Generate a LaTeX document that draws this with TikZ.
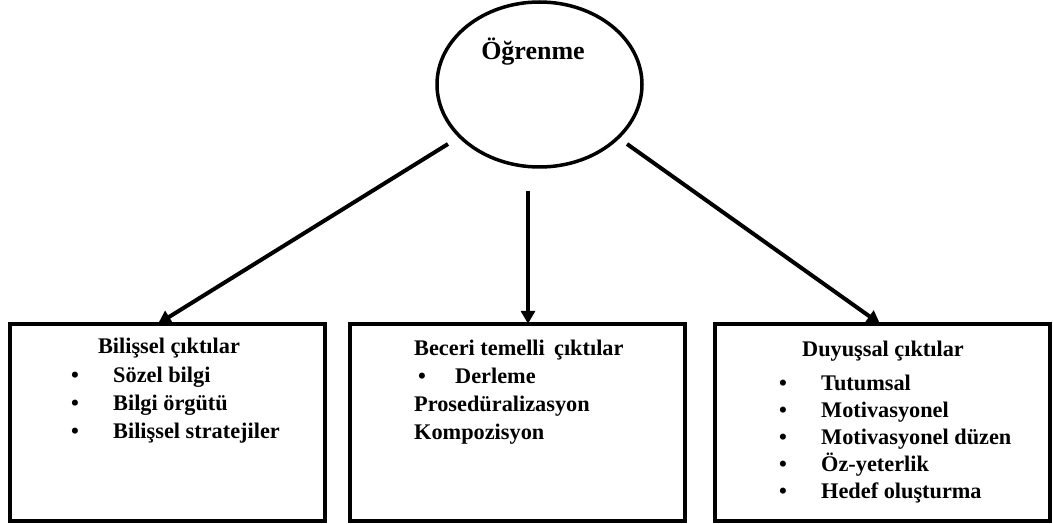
\documentclass[tikz,border=0pt]{standalone}
\usepackage{fontspec}
\setmainfont{Liberation Serif}[BoldFont={Liberation Serif Bold}]
\usetikzlibrary{shapes.geometric,arrows.meta,calc}
\begin{document}
\begin{tikzpicture}[x=1pt,y=-1pt,
  txt/.style={inner sep=0,font=\fontsize{22.3}{27}\selectfont\bfseries},
  tw/.style={txt,anchor=base west},
  tc/.style={txt,anchor=base},
  link/.style={line width=4pt,-{Triangle[length=13pt,width=14pt]}}]
\useasboundingbox (0,0) rectangle (1053,524);

% root ellipse
\node[ellipse,draw,line width=3.5pt,minimum width=205,minimum height=165,inner sep=0] (root) at (539.5,84.5) {};
\node[tc,font=\fontsize{26}{30}\selectfont\bfseries] (rootlbl) at (533,60) {Öğrenme};

% outcome boxes
\draw[line width=3.5pt] (10,324) rectangle (325,521);
\node[inner sep=0,minimum width=315,minimum height=197] (b1) at (167.5,422.5) {};
\draw[line width=3.5pt] (350,324) rectangle (685,521);
\node[inner sep=0,minimum width=335,minimum height=197] (b2) at (517.5,422.5) {};
\draw[line width=3.5pt] (715,324) rectangle (1050,521);
\node[inner sep=0,minimum width=335,minimum height=197] (b3) at (882.5,422.5) {};

% cognitive outcomes
\node[tc] (c0) at (169,353) {Bilişsel çıktılar};
\node[tc] (cb1) at (75,382) {•};
\node[tw] (c1) at (113,382) {Sözel bilgi};
\node[tc] (cb2) at (75,410) {•};
\node[tw] (c2) at (113,410) {Bilgi örgütü};
\node[tc] (cb3) at (75,438) {•};
\node[tw] (c3) at (113,438) {Bilişsel stratejiler};

% skill-based outcomes
\node[tw] (s0) at (414,355) {Beceri temelli\, çıktılar};
\node[tc] (sb1) at (422,383) {•};
\node[tw] (s1) at (455,383) {Derleme};
\node[tw] (s2) at (414,411) {Prosedüralizasyon};
\node[tw] (s3) at (414,439) {Kompozisyon};

% affective outcomes
\node[tc] (d0) at (883,356) {Duyuşsal çıktılar};
\node[tc] (db1) at (783,390) {•};
\node[tw] (d1) at (821,390) {Tutumsal};
\node[tc] (db2) at (783,417) {•};
\node[tw] (d2) at (821,417) {Motivasyonel};
\node[tc] (db3) at (783,444) {•};
\node[tw] (d3) at (821,444) {Motivasyonel düzen};
\node[tc] (db4) at (783,471) {•};
\node[tw] (d4) at (821,471) {Öz-yeterlik};
\node[tc] (db5) at (783,498) {•};
\node[tw] (d5) at (821,498) {Hedef oluşturma};

% connectors
\coordinate (o1) at (448,144);
\coordinate (o2) at (528,191);
\coordinate (o3) at (627,144);
\draw[link] (o1) -- ([xshift=-9.5pt]b1.north);
\draw[link] (o2) -- ([xshift=10.5pt]b2.north);
\draw[link] (o3) -- ([xshift=-2.5pt]b3.north);
\end{tikzpicture}
\end{document}
